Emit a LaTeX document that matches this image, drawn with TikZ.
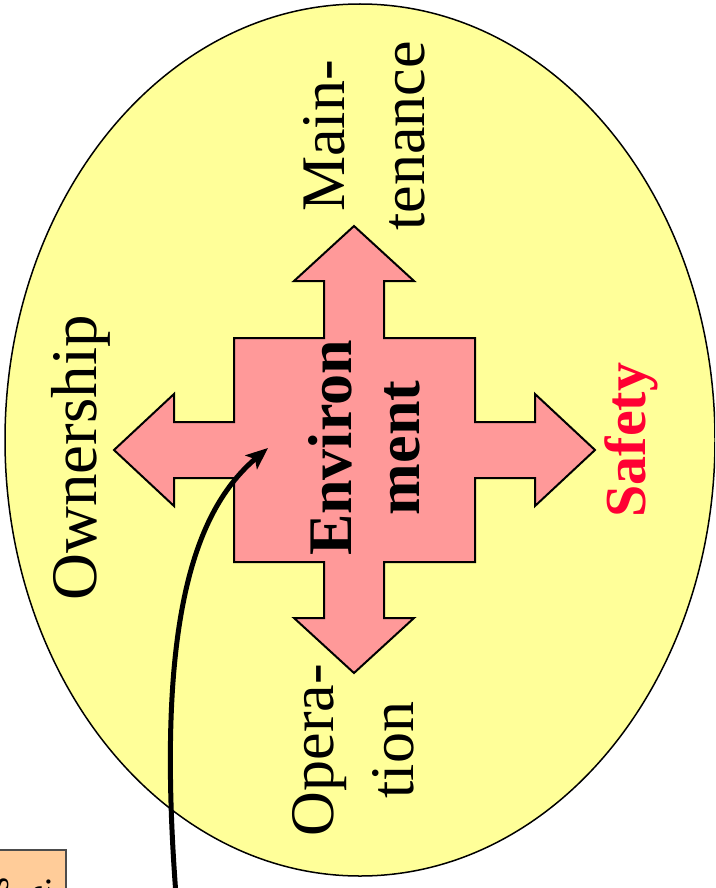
\documentclass[tikz,border=0pt]{standalone}
\usepackage{fontspec}
\setmainfont{Liberation Serif}
\usetikzlibrary{shapes.geometric, arrows.meta, positioning}

\definecolor{fieldyellow}{RGB}{255,255,153}
\definecolor{crosspink}{RGB}{255,153,153}
\definecolor{notepeach}{RGB}{255,204,153}
\definecolor{safetyred}{RGB}{255,0,51}

\begin{document}
\begin{tikzpicture}[
    x=1pt, y=-1pt,
    field/.style={ellipse, draw=black, line width=1.5pt, fill=fieldyellow, minimum width=710pt, minimum height=872pt, inner sep=0pt},
    bigcross/.style={draw=black, line width=2pt, fill=crosspink, line join=miter},
    aspect/.style={rotate=90, align=center, font=\fontsize{62}{80}\selectfont, inner sep=0pt},
    core/.style={aspect, font=\bfseries\fontsize{62}{68}\selectfont},
    notebox/.style={rectangle, draw=black!70, line width=2pt, fill=notepeach, rotate=90, align=right, font=\fontsize{36}{42}\selectfont, inner xsep=27pt, inner ysep=15pt},
    pointer/.style={-{Stealth[length=22pt, width=18pt, inset=5pt]}, line width=5pt}
]

\clip (0,0) rectangle (715,888);

% Ellipse
\node[field] (field) at (360,440) {};

% Cross with four arrow heads
\draw[bigcross] (354,226) -- (414,281) -- (384,281) -- (384,338) -- (475,338) -- (475,422)
    -- (535,422) -- (535,394) -- (595,450) -- (535,506) -- (535,478) -- (475,478)
    -- (475,562) -- (384,562) -- (384,618) -- (414,618) -- (354,673) -- (294,618)
    -- (324,618) -- (324,562) -- (234,562) -- (234,478) -- (174,478) -- (174,506)
    -- (114,450) -- (174,394) -- (174,422) -- (234,422) -- (234,338) -- (324,338)
    -- (324,281) -- (294,281) -- cycle;

% Labels
\node[core] (env) at (364,448) {Environ\\ment};
\node[aspect] (maint) at (364,136) {Main-\\tenance};
\node[aspect] (oper) at (353,750) {Opera-\\tion};
\node[aspect, font=\fontsize{65}{80}\selectfont] (own) at (81,458) {Ownership};
\node[aspect, font=\bfseries\fontsize{58}{64}\selectfont, text=safetyred] (safety) at (631,440) {Safety};

% Note box, mostly outside
\node[notebox, anchor=south east] (note) at (67,849) {s\\e.};

% Arrow
\coordinate (tail) at (176,895);
\coordinate (head) at (268,448);
\draw[pointer] (tail) .. controls (155,620) and (195,510) .. (head);

\end{tikzpicture}
\end{document}
